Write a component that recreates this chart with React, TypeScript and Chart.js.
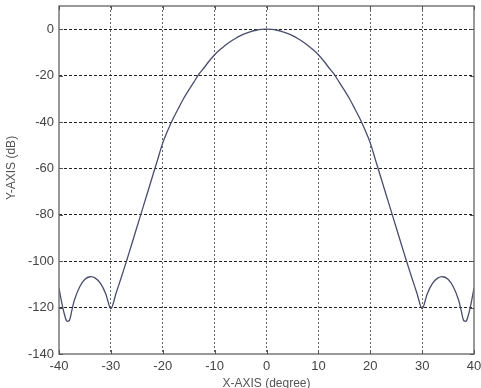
import React, { useEffect, useRef } from "react";
import { Chart, registerables } from "chart.js";

Chart.register(...registerables);

const xDeg: number[] = [
  -40, -39.5, -39, -38.5, -38, -37.5, -37, -36, -35, -34, -33, -32, -31, -30,
  -29, -28, -27, -26, -25, -24, -23, -22, -21, -20, -19, -18, -17, -16, -15,
  -14, -13, -12, -11, -10, -9, -8, -7, -6, -5, -4, -3, -2, -1, 0,
  1, 2, 3, 4, 5, 6, 7, 8, 9, 10, 11, 12, 13, 14, 15,
  16, 17, 18, 19, 20, 21, 22, 23, 24, 25, 26, 27, 28, 29, 30,
  31, 32, 33, 34, 35, 36, 37, 37.5, 38, 38.5, 39, 39.5, 40,
];

const yDb: number[] = [
  -111.5, -117.5, -122.5, -125.8, -125.5, -121, -116.5, -111, -107.8, -106.7, -107.3, -109.6, -114, -120.5,
  -113.8, -107, -100, -92.8, -85.5, -78.2, -70.9, -63.6, -56.3, -49, -43.5, -38.5, -34.2, -30, -26.3,
  -22.8, -19.3, -16.5, -13.6, -11, -8.9, -7, -5.4, -4, -2.8, -1.8, -1, -0.45, -0.1, 0,
  -0.1, -0.45, -1, -1.8, -2.8, -4, -5.4, -7, -8.9, -11, -13.6, -16.5, -19.3, -22.8, -26.3,
  -30, -34.2, -38.5, -43.5, -49, -56.3, -63.6, -70.9, -78.2, -85.5, -92.8, -100, -107, -113.8, -120.5,
  -114, -109.6, -107.3, -106.7, -107.8, -111, -116.5, -121, -125.5, -125.8, -122.5, -117.5, -111.5,
];

const xTicks: number[] = [-40, -30, -20, -10, 0, 10, 20, 30, 40];
const yTicks: number[] = [-140, -120, -100, -80, -60, -40, -20, 0];

const xTitle = "X-AXIS (degree)";
const yTitle = "Y-AXIS (dB)";

const FONT = "'Liberation Sans Narrow', 'Liberation Sans', Arial, sans-serif";

export default function App() {
  const ref = useRef<HTMLCanvasElement | null>(null);

  useEffect(() => {
    if (!ref.current) return;
    const framePlugin = {
      id: "frame",
      beforeDraw(chart: any) {
        const ctx = chart.ctx;
        ctx.save();
        ctx.fillStyle = "#ffffff";
        ctx.fillRect(0, 0, chart.width, chart.height);
        ctx.restore();
      },
      afterDraw(chart: any) {
        const ctx = chart.ctx;
        const a = chart.chartArea;
        ctx.save();
        ctx.strokeStyle = "#777777";
        ctx.lineWidth = 1.5;
        ctx.strokeRect(a.left, a.top, a.right - a.left, a.bottom - a.top);
        ctx.strokeStyle = "#555555";
        ctx.lineWidth = 1;
        const xs = chart.scales.x;
        const ys = chart.scales.y;
        xTicks.forEach((v) => {
          const px = Math.round(xs.getPixelForValue(v)) + 0.5;
          ctx.beginPath();
          ctx.moveTo(px, a.bottom);
          ctx.lineTo(px, a.bottom - 4);
          ctx.moveTo(px, a.top);
          ctx.lineTo(px, a.top + 4);
          ctx.stroke();
        });
        yTicks.forEach((v) => {
          const py = Math.round(ys.getPixelForValue(v)) + 0.5;
          ctx.beginPath();
          ctx.moveTo(a.left, py);
          ctx.lineTo(a.left + 4, py);
          ctx.moveTo(a.right, py);
          ctx.lineTo(a.right - 4, py);
          ctx.stroke();
        });
        ctx.fillStyle = "#555555";
        ctx.font = `12px ${FONT}`;
        ctx.textAlign = "center";
        ctx.textBaseline = "middle";
        ctx.fillText(xTitle, (a.left + a.right) / 2, 384);
        ctx.translate(12, 168);
        ctx.rotate(-Math.PI / 2);
        ctx.fillText(yTitle, 0, 0);
        ctx.restore();
      },
    };

    const chart = new Chart(ref.current, {
      type: "line",
      data: {
        datasets: [
          {
            data: xDeg.map((x, i) => ({ x, y: yDb[i] })),
            borderColor: "#4a4d6e",
            borderWidth: 1.3,
            pointRadius: 0,
            tension: 0.3,
            fill: false,
          },
        ],
      },
      options: {
        animation: false,
        responsive: false,
        maintainAspectRatio: false,
        layout: { padding: { left: 0, right: 7, top: 6, bottom: 0 } },
        plugins: { legend: { display: false }, tooltip: { enabled: false } },
        scales: {
          x: {
            type: "linear",
            min: -40,
            max: 40,
            afterBuildTicks: (s: any) => {
              s.ticks = xTicks.map((v) => ({ value: v }));
            },
            afterFit: (s: any) => {
              s.height = 34;
              s.paddingLeft = 0;
              s.paddingRight = 0;
            },
            border: { display: false, dash: [2, 2] },
            grid: {
              color: (c: any) =>
                c.tick && (c.tick.value === -40 || c.tick.value === 40) ? "rgba(0,0,0,0)" : "#666666",
              lineWidth: 1,
              drawTicks: false,
            },
            ticks: {
              color: "#444444",
              font: { family: FONT, size: 13 },
              padding: 5,
              maxRotation: 0,
              autoSkip: false,
            },
          },
          y: {
            type: "linear",
            min: -140,
            max: 10,
            afterBuildTicks: (s: any) => {
              s.ticks = yTicks.map((v) => ({ value: v }));
            },
            afterFit: (s: any) => {
              s.width = 59;
              s.paddingTop = 0;
              s.paddingBottom = 0;
            },
            border: { display: false, dash: [3, 2] },
            grid: {
              color: (c: any) =>
                c.tick && c.tick.value === -140 ? "rgba(0,0,0,0)" : "#222222",
              lineWidth: 1,
              drawTicks: false,
            },
            ticks: {
              color: "#444444",
              font: { family: FONT, size: 13 },
              padding: 5,
              autoSkip: false,
            },
          },
        },
      },
      plugins: [framePlugin],
    } as any);

    return () => chart.destroy();
  }, []);

  return (
    <div style={{ position: "fixed", left: 0, top: 0, width: 481, height: 388 }}>
      <canvas ref={ref} width={481} height={388} style={{ width: 481, height: 388 }} />
    </div>
  );
}
